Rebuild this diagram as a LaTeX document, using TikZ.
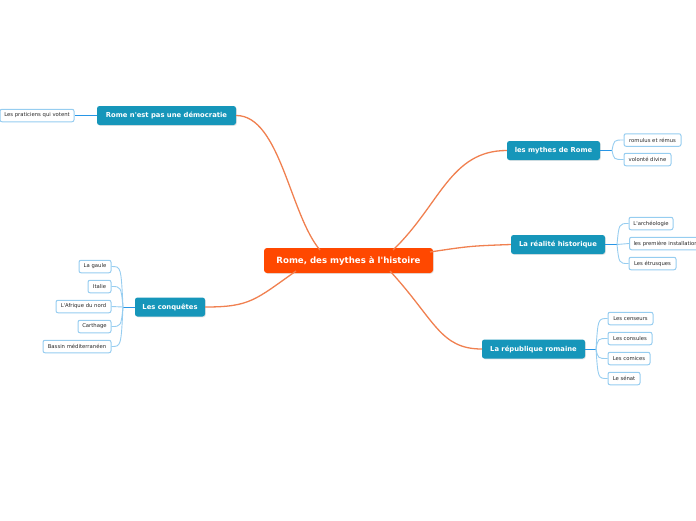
\documentclass[tikz,border=0pt]{standalone}
\usepackage{fontspec}
\setmainfont{DejaVu Sans}[Ligatures=TeXOff]
\usetikzlibrary{shadows}
\definecolor{teal1}{RGB}{22,150,186}
\definecolor{orangec}{RGB}{255,72,0}
\definecolor{orline}{RGB}{240,128,80}
\definecolor{leafb}{RGB}{150,205,240}
\definecolor{forkb}{RGB}{40,150,230}
\definecolor{leaft}{RGB}{40,40,40}
\tikzset{
  central/.style={fill=orangec, text=white, rounded corners=3pt, font=\bfseries\fontsize{8.6}{10}\selectfont, minimum width=169pt, minimum height=25pt, inner sep=0pt, drop shadow={opacity=0.2, shadow xshift=0.8pt, shadow yshift=-0.8pt}},
  topic/.style={fill=teal1, text=white, rounded corners=2.5pt, font=\bfseries\fontsize{6.8}{8}\selectfont, minimum height=19pt, inner sep=0pt, drop shadow={opacity=0.2, shadow xshift=0.8pt, shadow yshift=-0.8pt}},
  leaf/.style={draw=leafb, fill=white, line width=1pt, text=leaft, rounded corners=2pt, font=\fontsize{5.3}{6.3}\selectfont, minimum height=12.5pt, inner sep=0pt},
  mainline/.style={draw=orline, line width=1.3pt},
  leafline/.style={draw=leafb, line width=0.9pt},
  forkline/.style={draw=forkb, line width=1pt}
}
\begin{document}
\begin{tikzpicture}[x=1pt,y=-1pt]
\useasboundingbox (0,0) rectangle (696,520);
\coordinate (c1) at (320,250);
\coordinate (c2) at (393,250);
\coordinate (c3) at (430,252);
\coordinate (c4) at (390,271);
\coordinate (c5) at (296,271);
% nodes
\node[central] (c) at (348.5,260.5) {Rome, des mythes à l'histoire};
\node[topic, minimum width=139pt] (t1) at (166.5,115.5) {Rome n'est pas une démocratie};
\node[topic, minimum width=93pt] (t2) at (553.5,150.5) {les mythes de Rome};
\node[topic, minimum width=94pt] (t3) at (558,244.5) {La réalité historique};
\node[topic, minimum width=103pt] (t4) at (533.5,349) {La république romaine};
\node[topic, minimum width=70pt] (t5) at (170,307) {Les conquêtes};

\node[leaf, minimum width=74pt] (l1) at (37,115.5) {Les praticiens qui votent};
\node[leaf, minimum width=57pt] (l2) at (652.5,140) {romulus et rémus};
\node[leaf, minimum width=47pt] (l3) at (647.5,159.5) {volonté divine};
\node[leaf, minimum width=44pt] (l4) at (651,223.5) {L'archéologie};
\node[leaf, minimum width=80pt, anchor=west, text width=76pt, align=left] (l5) at (629,243.5) {\hspace*{2pt}les première installations};
\node[leaf, minimum width=47pt] (l6) at (652.5,263.5) {Les étrusques};
\node[leaf, minimum width=45pt] (l7) at (630.5,318.5) {Les censeurs};
\node[leaf, minimum width=44pt] (l8) at (630,338.5) {Les consules};
\node[leaf, minimum width=42pt] (l9) at (629,358.5) {Les comices};
\node[leaf, minimum width=32pt] (l10) at (624,378.5) {Le sénat};
\node[leaf, minimum width=32pt] (l11) at (95,266.5) {La gaule};
\node[leaf, minimum width=23pt] (l12) at (99.5,286.5) {Italie};
\node[leaf, minimum width=55pt] (l13) at (83.5,306.5) {L'Afrique du nord};
\node[leaf, minimum width=33pt] (l14) at (94.5,326.5) {Carthage};
\node[leaf, minimum width=68pt] (l15) at (77,346.5) {Bassin méditerranéen};

% main connectors
\path[mainline] (c1) .. controls (290,215) and (280,115.5) .. (t1.east);
\path[mainline] (c2) .. controls (440,205) and (450,150.5) .. (t2.west);
\path[mainline] (c3) .. controls (470,246) .. (t3.west);
\path[mainline] (c4) .. controls (435,320) and (440,349) .. (t4.west);
\path[mainline] (c5) .. controls (255,300) and (250,307) .. (t5.east);

% leaf connectors
\path[forkline] (t1.west) -- (l1.east);
\coordinate (f2) at (612,150.5);
\path[forkline] (t2.east) -- (f2);
\path[leafline] (f2) .. controls (614,140) .. (l2.west);
\path[leafline] (f2) .. controls (614,159.5) .. (l3.west);
\coordinate (f3) at (617,244.5);
\path[forkline] (t3.east) -- (f3);
\path[leafline] (f3) .. controls (619,223.5) .. (l4.west);
\path[leafline] (f3) -- (l5.west);
\path[leafline] (f3) .. controls (619,263.5) .. (l6.west);
\coordinate (f4) at (596,349);
\path[forkline] (t4.east) -- (f4);
\path[leafline] (f4) .. controls (598,318.5) .. (l7.west);
\path[leafline] (f4) .. controls (598,338.5) .. (l8.west);
\path[leafline] (f4) .. controls (598,358.5) .. (l9.west);
\path[leafline] (f4) .. controls (598,378.5) .. (l10.west);
\coordinate (f5) at (123,307);
\path[forkline] (t5.west) -- (f5);
\path[leafline] (f5) .. controls (121,266.5) .. (l11.east);
\path[leafline] (f5) .. controls (121,286.5) .. (l12.east);
\path[leafline] (f5) -- (l13.east);
\path[leafline] (f5) .. controls (121,326.5) .. (l14.east);
\path[leafline] (f5) .. controls (121,346.5) .. (l15.east);
\end{tikzpicture}
\end{document}
